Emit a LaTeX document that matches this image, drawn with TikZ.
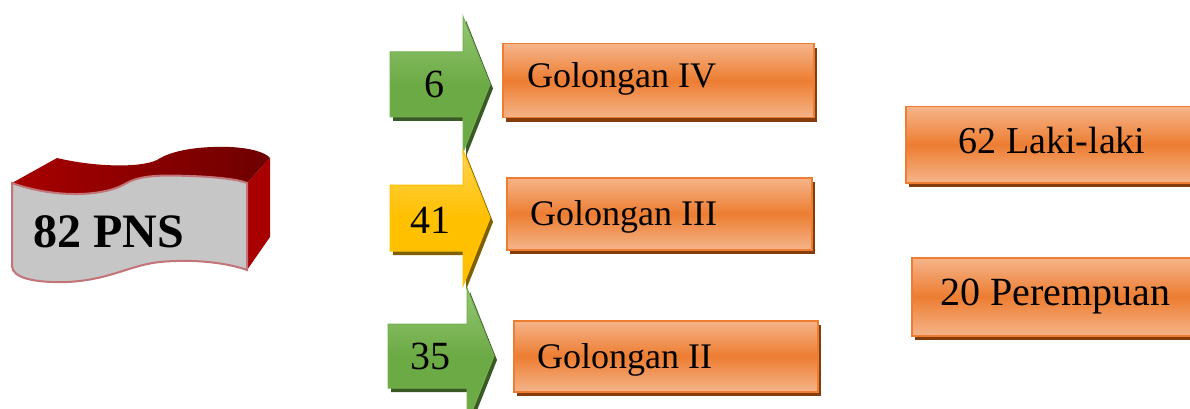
\documentclass[tikz,border=0pt]{standalone}
\usepackage{fontspec}
\setmainfont{Liberation Serif}
\usetikzlibrary{shadows}

\definecolor{orangemain}{HTML}{ED7D31}
\definecolor{orangelight}{HTML}{F5B48A}
\definecolor{orangeshadow}{HTML}{843C0C}
\definecolor{greenmain}{HTML}{6CAA45}
\definecolor{greenlight}{HTML}{95C874}
\definecolor{greenedge}{HTML}{74B050}
\definecolor{greenshadow}{HTML}{3A5A25}
\definecolor{yellowmain}{HTML}{FFC000}
\definecolor{yellowlight}{HTML}{FFD454}
\definecolor{yellowshadow}{HTML}{7F6000}
\definecolor{ribbonface}{HTML}{C6C6C6}
\definecolor{ribbonedge}{HTML}{C27478}
\definecolor{ribbontop}{HTML}{6E0000}
\definecolor{ribbonside}{HTML}{A80000}

% arrow outline: body left, head base, tip, centre line, body half height, head half height
\newcommand\numarrowpath[6]{(#1,#4-#5) -- (#2,#4-#5) -- (#2,#4-#6) -- (#3,#4) -- (#2,#4+#6) -- (#2,#4+#5) -- (#1,#4+#5) -- cycle}

\tikzset{
  catbox/.style={draw=orangemain, line width=1.5pt,
    top color=orangelight, bottom color=orangelight, middle color=orangemain,
    anchor=north west, inner sep=0pt,
    drop shadow={shadow xshift=3pt, shadow yshift=-4pt, fill=orangeshadow, opacity=1}},
  greenarrow/.style={draw=greenedge, line width=1pt,
    top color=greenlight, bottom color=greenmain, middle color=greenmain},
  yellowarrow/.style={draw=yellowmain, line width=1pt,
    top color=yellowlight, bottom color=yellowmain, middle color=yellowmain},
  catlabel/.style={anchor=base west, inner sep=0pt, font=\fontsize{36}{40}\selectfont},
  numlabel/.style={anchor=base, inner sep=0pt, font=\fontsize{40}{44}\selectfont},
  sexlabel/.style={anchor=base, inner sep=0pt},
}

\begin{document}
\begin{tikzpicture}[x=1pt, y=-1pt]
\clip (0,0) rectangle (1190,409);

% ---- 3D ribbon with the total ----
\path[left color=ribbonside, right color=ribbontop]
  (12,183) -- (57,158)
  .. controls (95,167) and (140,168) .. (157,160)
  .. controls (172,150) and (200,146) .. (230,147)
  .. controls (250,148) and (265,152) .. (270,158)
  -- (247,183)
  .. controls (240,180) and (220,177) .. (190,176)
  .. controls (160,175) and (140,175) .. (125,184)
  .. controls (100,198) and (50,197) .. (12,183) -- cycle;
\fill[ribbonside] (247,183) -- (270,158) -- (270,237) -- (247,270) -- cycle;
\draw[ribbonedge, line width=2pt, fill=ribbonface]
  (12,183)
  .. controls (50,197) and (100,198) .. (125,184)
  .. controls (140,175) and (160,175) .. (190,176)
  .. controls (220,177) and (240,180) .. (247,183)
  -- (247,270)
  .. controls (225,262) and (190,259) .. (160,262)
  .. controls (130,265) and (110,280) .. (67,282)
  .. controls (35,283) and (12,278) .. (12,266) -- cycle;
\node[anchor=base, inner sep=0pt, font=\fontsize{48}{52}\selectfont\bfseries] (total) at (109,247) {82 PNS};

% ---- arrows with counts ----
\fill[greenshadow, shift={(3,4)}] \numarrowpath{390}{463}{490}{84.5}{32.5}{68};
\path[greenarrow] \numarrowpath{390}{463}{490}{84.5}{32.5}{68};
\node[numlabel] (n4) at (434,98) {6};

\fill[yellowshadow, shift={(3,4)}] \numarrowpath{390}{463}{490}{218}{33}{68};
\path[yellowarrow] \numarrowpath{390}{463}{490}{218}{33}{68};
\node[numlabel] (n3) at (430,233) {41};

\fill[greenshadow, shift={(3,4)}] \numarrowpath{388}{467}{494}{356}{32}{68};
\path[greenarrow] \numarrowpath{388}{467}{494}{356}{32}{68};
\node[numlabel] (n2) at (430,369) {35};

% ---- rank boxes ----
\node[catbox, minimum width=311pt, minimum height=74pt] (g4) at (502,43) {};
\node[catlabel] (t4) at (527,88) {Golongan IV};

\node[catbox, minimum width=305pt, minimum height=72pt] (g3) at (506,177) {};
\node[catlabel] (t3) at (530,225) {Golongan III};

\node[catbox, minimum width=304pt, minimum height=71pt] (g2) at (513,320) {};
\node[catlabel] (t2) at (537,368) {Golongan II};

% ---- gender boxes ----
\node[catbox, minimum width=300pt, minimum height=76pt] (male) at (905,106) {};
\node[sexlabel, font=\fontsize{38}{42}\selectfont] (tm) at (1052,153) {62 Laki-laki};

\node[catbox, minimum width=300pt, minimum height=78pt] (female) at (911,257) {};
\node[sexlabel, font=\fontsize{40}{44}\selectfont] (tf) at (1055,305) {20 Perempuan};
\end{tikzpicture}
\end{document}
